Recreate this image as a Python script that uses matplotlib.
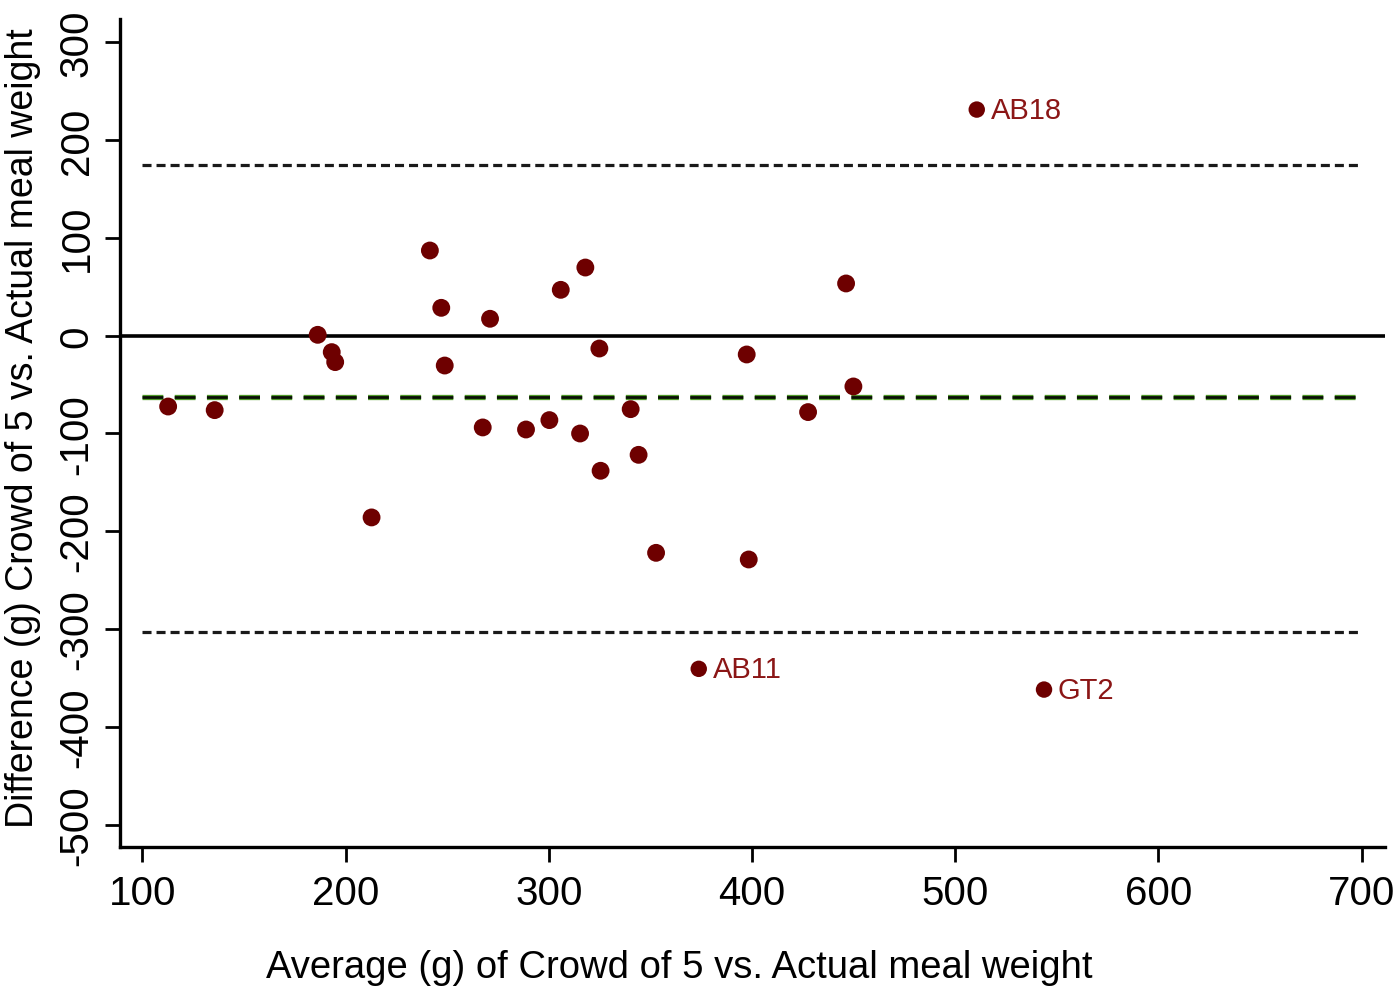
import matplotlib
matplotlib.use("Agg")
import matplotlib.pyplot as plt

plt.rcParams['font.family'] = ['Liberation Sans', 'DejaVu Sans']
plt.rcParams['lines.scale_dashes'] = False
plt.rcParams['axes.unicode_minus'] = False

# average of crowd estimate and actual weight (g)
avg = [112.7, 135.6, 186.3, 193.2, 194.9, 212.8, 241.5, 247.1, 248.8, 271.1,
       267.5, 288.8, 300.3, 305.9, 318.0, 324.9, 315.4, 325.5, 340.3, 344.2,
       352.8, 397.4, 398.4, 427.6, 446.3, 449.9]
# difference crowd - actual (g)
diff = [-72.6, -76.3, 0.7, -17.0, -27.2, -186.0, 86.9, 28.3, -30.7, 17.1,
        -94.0, -96.1, -86.5, 46.7, 69.5, -13.3, -100.2, -138.3, -75.3, -122.0,
        -222.2, -19.4, -229.0, -78.3, 53.2, -52.1]

# labelled outliers
out_names = ['AB18', 'AB11', 'GT2']
out_avg = [510.6, 373.8, 543.7]
out_diff = [231.0, -340.8, -362.0]

mean_diff = -63.3
upper_loa = 174.5
lower_loa = -303.0

fig = plt.figure(figsize=(14, 9.95), dpi=100)
ax = fig.add_axes([0.0857, 0.1477, 0.9036, 0.8323])

ax.axhline(0, color='black', lw=2.6, zorder=2)
ax.plot([100, 700], [upper_loa, upper_loa], color='#1a1a1a', lw=2.3,
        linestyle=(0, (6.5, 3.6)), zorder=2)
ax.plot([100, 700], [lower_loa, lower_loa], color='#1a1a1a', lw=2.3,
        linestyle=(0, (6.5, 3.6)), zorder=2)
# mean difference: black dashes with a green edge
ax.plot([100, 700], [mean_diff, mean_diff], color='#4f9a2a', lw=3.8,
        linestyle=(0, (15, 8.2)), zorder=2)
ax.plot([100, 700], [mean_diff, mean_diff], color='#0a0f05', lw=2.0,
        linestyle=(0, (15, 8.2)), zorder=2)

ax.scatter(avg, diff, s=165, color='#6e0000', edgecolors='none', zorder=3)
ax.scatter(out_avg, out_diff, s=140, color='#6e0000', edgecolors='none', zorder=3)
for name, x, y in zip(out_names, out_avg, out_diff):
    ax.annotate(name, (x, y), xytext=(10, 0), textcoords='offset points',
                ha='left', va='center', fontsize=21, color='#8b1616')

ax.set_xlim(89, 711.5)
ax.set_ylim(-523, 323.7)
ax.set_xticks([100, 200, 300, 400, 500, 600, 700])
ax.set_yticks([-500, -400, -300, -200, -100, 0, 100, 200, 300])

for side in ['top', 'right']:
    ax.spines[side].set_visible(False)
for side in ['left', 'bottom']:
    ax.spines[side].set_linewidth(2.4)

ax.tick_params(axis='both', length=10.5, width=2.0, labelsize=29)
ax.tick_params(axis='x', pad=9)
ax.tick_params(axis='y', pad=7)
for lab in ax.get_yticklabels():
    lab.set_rotation(90)
    lab.set_va('center')

ax.set_xlabel('Average (g) of Crowd of 5 vs. Actual meal weight', fontsize=27.5)
ax.set_ylabel('Difference (g) Crowd of 5 vs. Actual meal weight', fontsize=27)
ax.xaxis.set_label_coords(0.442, -0.145)
ax.xaxis.label.set_va('center')
ax.yaxis.set_label_coords(-0.077, 0.507)
ax.yaxis.label.set_va('center')

fig.savefig('out.png', dpi=100)
